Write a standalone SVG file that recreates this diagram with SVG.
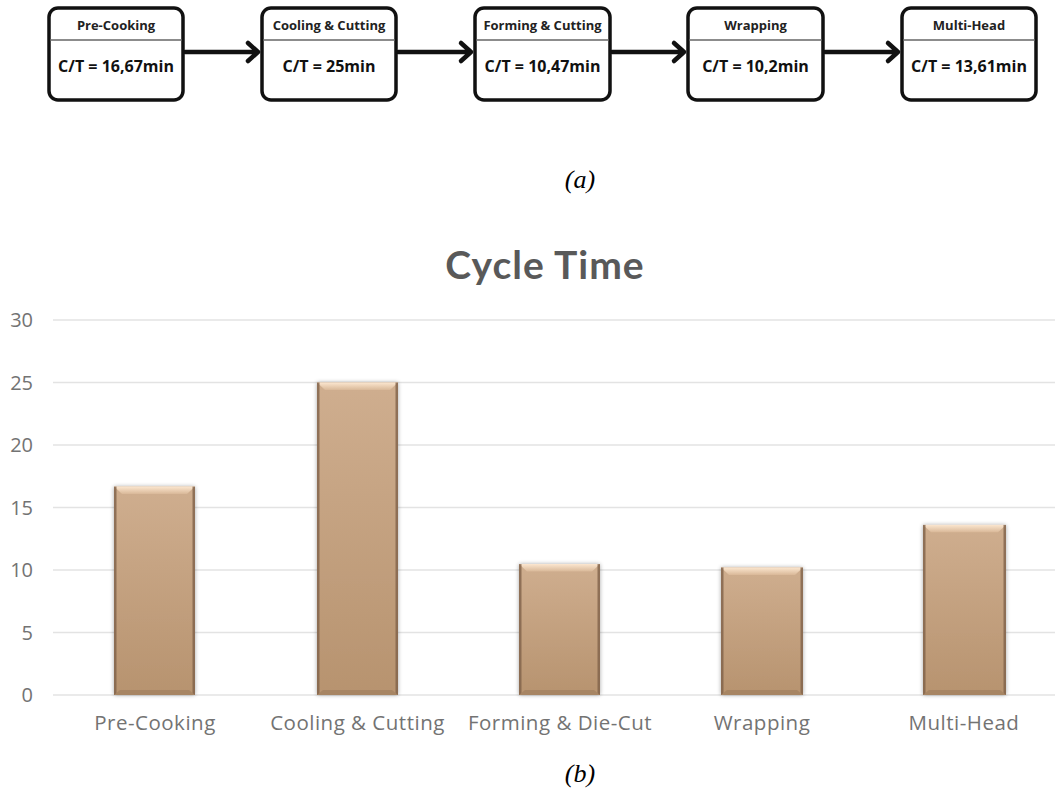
<svg xmlns="http://www.w3.org/2000/svg" width="1055" height="792" viewBox="0 0 1055 792">
<defs>
<style>
.box{fill:#fff;stroke:#111;stroke-width:3.5}
.div{stroke:#666;stroke-width:1.5}
.hd{font-family:"Open Sans",sans-serif;font-weight:700;font-size:13px;fill:#222;text-anchor:middle}
.val{font-family:"Open Sans",sans-serif;font-weight:700;font-size:16px;fill:#111;text-anchor:middle}
.conn{stroke:#111;stroke-width:4.5;fill:none;stroke-linecap:round;stroke-linejoin:round}
.cap{font-family:"Liberation Serif",serif;font-style:italic;font-size:26px;fill:#000;text-anchor:middle}
.grid{stroke:#e3e3e3;stroke-width:1.5}
.ylab{font-family:"Open Sans",sans-serif;font-size:20px;fill:#737373;text-anchor:end}
.xlab{font-family:"Open Sans",sans-serif;font-size:20.5px;fill:#737373;text-anchor:middle;letter-spacing:0.5px}
.title{font-family:Lato,sans-serif;font-weight:700;font-size:39px;fill:#595959;text-anchor:middle;letter-spacing:1px}
.bar{fill:url(#bg);filter:url(#sh)}
.bt{fill:url(#tg)}
.bs{fill:#7f614a;opacity:0.8}
.bb{fill:#a78563}
</style>
<linearGradient id="bg" x1="0" y1="0" x2="0" y2="1">
<stop offset="0" stop-color="#cfae8f"/>
<stop offset="1" stop-color="#b7936f"/>
</linearGradient>
<linearGradient id="tg" x1="0" y1="0" x2="0" y2="1">
<stop offset="0" stop-color="#fbe6cf"/>
<stop offset="1" stop-color="#d9b898"/>
</linearGradient>
<filter id="sh" x="-20%" y="-10%" width="140%" height="120%">
<feGaussianBlur in="SourceAlpha" stdDeviation="2"/>
<feComponentTransfer><feFuncA type="linear" slope="0.35"/></feComponentTransfer>
<feMerge><feMergeNode/><feMergeNode in="SourceGraphic"/></feMerge>
</filter>
</defs>
<rect width="1055" height="792" fill="#fff"/>

<g id="connectors">
<path class="conn" d="M185 52 H258 M248 43 L258 52 L248 61"/>
<path class="conn" d="M398 52 H471 M461 43 L471 52 L461 61"/>
<path class="conn" d="M612 52 H684 M674 43 L684 52 L674 61"/>
<path class="conn" d="M825 52 H898 M888 43 L898 52 L888 61"/>
</g>

<g id="n1">
<rect class="box" x="49" y="8" width="134" height="92" rx="9"/>
<line class="div" x1="50" y1="40" x2="182" y2="40"/>
<text class="hd" x="116" y="30">Pre-Cooking</text>
<text class="val" x="116" y="72">C/T = 16,67min</text>
</g>
<g id="n2">
<rect class="box" x="262" y="8" width="134" height="92" rx="9"/>
<line class="div" x1="263" y1="40" x2="395" y2="40"/>
<text class="hd" x="329" y="30">Cooling &amp; Cutting</text>
<text class="val" x="329" y="72">C/T = 25min</text>
</g>
<g id="n3">
<rect class="box" x="475" y="8" width="135" height="92" rx="9"/>
<line class="div" x1="476" y1="40" x2="609" y2="40"/>
<text class="hd" x="542.5" y="30">Forming &amp; Cutting</text>
<text class="val" x="542.5" y="72">C/T = 10,47min</text>
</g>
<g id="n4">
<rect class="box" x="688" y="8" width="135" height="92" rx="9"/>
<line class="div" x1="689" y1="40" x2="822" y2="40"/>
<text class="hd" x="755.5" y="30">Wrapping</text>
<text class="val" x="755.5" y="72">C/T = 10,2min</text>
</g>
<g id="n5">
<rect class="box" x="902" y="8" width="134" height="92" rx="9"/>
<line class="div" x1="903" y1="40" x2="1035" y2="40"/>
<text class="hd" x="969" y="30">Multi-Head</text>
<text class="val" x="969" y="72">C/T = 13,61min</text>
</g>

<text class="cap" x="580" y="188">(a)</text>

<g id="chart">
<text class="title" x="545" y="279">Cycle Time</text>
<g id="grid">
<line class="grid" x1="53" y1="320" x2="1055" y2="320"/>
<line class="grid" x1="53" y1="382.5" x2="1055" y2="382.5"/>
<line class="grid" x1="53" y1="445" x2="1055" y2="445"/>
<line class="grid" x1="53" y1="507.5" x2="1055" y2="507.5"/>
<line class="grid" x1="53" y1="570" x2="1055" y2="570"/>
<line class="grid" x1="53" y1="632.5" x2="1055" y2="632.5"/>
<line class="grid" x1="53" y1="695" x2="1055" y2="695"/>
</g>
<g id="yaxis">
<text class="ylab" x="33" y="327">30</text>
<text class="ylab" x="33" y="389.5">25</text>
<text class="ylab" x="33" y="452">20</text>
<text class="ylab" x="33" y="514.5">15</text>
<text class="ylab" x="33" y="577">10</text>
<text class="ylab" x="33" y="639.5">5</text>
<text class="ylab" x="33" y="702">0</text>
</g>
<g id="bar1">
<rect class="bar" x="114" y="486.6" width="81" height="208.4"/>
<polygon class="bt" points="114,486.6 195,486.6 187,494 122,494"/>
<rect class="bs" x="114" y="486.6" width="2.5" height="208.4"/>
<rect class="bs" x="192.5" y="486.6" width="2.5" height="208.4"/>
<polygon class="bb" points="114,695 195,695 189,690 120,690"/>
</g>
<g id="bar2">
<rect class="bar" x="317" y="382.5" width="81" height="312.5"/>
<polygon class="bt" points="317,382.5 398,382.5 390,390 325,390"/>
<rect class="bs" x="317" y="382.5" width="2.5" height="312.5"/>
<rect class="bs" x="395.5" y="382.5" width="2.5" height="312.5"/>
<polygon class="bb" points="317,695 398,695 392,690 323,690"/>
</g>
<g id="bar3">
<rect class="bar" x="519" y="564.1" width="81" height="130.9"/>
<polygon class="bt" points="519,564.1 600,564.1 592,571.5 527,571.5"/>
<rect class="bs" x="519" y="564.1" width="2.5" height="130.9"/>
<rect class="bs" x="597.5" y="564.1" width="2.5" height="130.9"/>
<polygon class="bb" points="519,695 600,695 594,690 525,690"/>
</g>
<g id="bar4">
<rect class="bar" x="721" y="567.5" width="82" height="127.5"/>
<polygon class="bt" points="721,567.5 803,567.5 795,575 729,575"/>
<rect class="bs" x="721" y="567.5" width="2.5" height="127.5"/>
<rect class="bs" x="800.5" y="567.5" width="2.5" height="127.5"/>
<polygon class="bb" points="721,695 803,695 797,690 727,690"/>
</g>
<g id="bar5">
<rect class="bar" x="923" y="524.9" width="83" height="170.1"/>
<polygon class="bt" points="923,524.9 1006,524.9 998,532.3 931,532.3"/>
<rect class="bs" x="923" y="524.9" width="2.5" height="170.1"/>
<rect class="bs" x="1003.5" y="524.9" width="2.5" height="170.1"/>
<polygon class="bb" points="923,695 1006,695 1000,690 929,690"/>
</g>
<g id="xaxis">
<text class="xlab" x="155" y="730">Pre-Cooking</text>
<text class="xlab" x="357.5" y="730">Cooling &amp; Cutting</text>
<text class="xlab" x="560" y="730">Forming &amp; Die-Cut</text>
<text class="xlab" x="762" y="730">Wrapping</text>
<text class="xlab" x="964" y="730">Multi-Head</text>
</g>
</g>
<text class="cap" x="580" y="782">(b)</text>
</svg>
